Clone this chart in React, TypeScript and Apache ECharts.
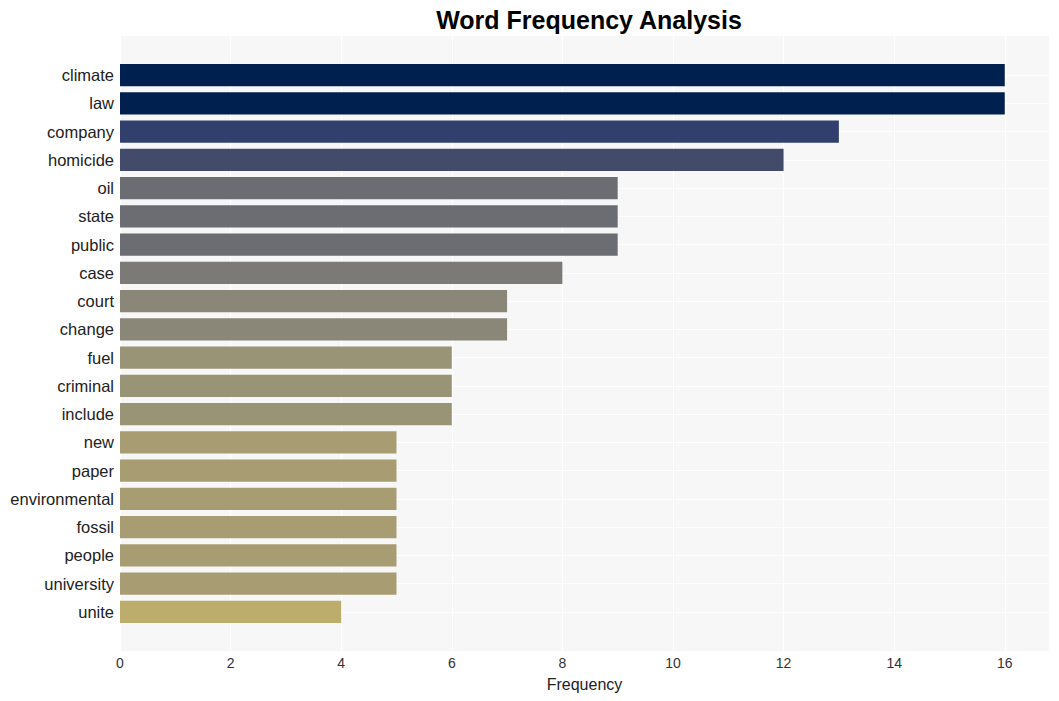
import React, { useEffect, useRef } from "react";
import * as echarts from "echarts";

const categories = [
  "climate", "law", "company", "homicide", "oil", "state", "public", "case", "court", "change",
  "fuel", "criminal", "include", "new", "paper", "environmental", "fossil", "people", "university", "unite",
];
const values = [16, 16, 13, 12, 9, 9, 9, 8, 7, 7, 6, 6, 6, 5, 5, 5, 5, 5, 5, 4];
const barColors = [
  "#00204f", "#00204f", "#303f6c", "#424c6a", "#6c6d72", "#6c6d72", "#6c6d72", "#7b7a76",
  "#8a8778", "#8a8778", "#9a9476", "#9a9476", "#9a9476", "#a89c72", "#a89c72", "#a89c72",
  "#a89c72", "#a89c72", "#a89c72", "#bcad6d",
];
const xTicks = [0, 2, 4, 6, 8, 10, 12, 14, 16];

const FONT = "Liberation Sans, Arial, sans-serif";

export default function App() {
  const ref = useRef<HTMLDivElement>(null);
  useEffect(() => {
    if (!ref.current) return;
    const chart = echarts.init(ref.current, undefined, { renderer: "svg" });
    const xMax = xTicks[xTicks.length - 1] * 1.05;
    chart.setOption({
      animation: false,
      title: {
        text: "Word Frequency Analysis",
        left: 584,
        top: 2,
        textAlign: "center",
        textStyle: { fontFamily: FONT, fontSize: 25, fontWeight: "bold", color: "#000" },
      },
      grid: [
        {
          left: 120, right: 10, top: 36, bottom: 50,
          show: true, backgroundColor: "#f7f7f7", borderWidth: 0,
        },
        { left: 120, right: 10, top: 61, bottom: 75 },
      ],
      xAxis: [
        {
          gridIndex: 0,
          type: "value",
          min: 0,
          max: xMax,
          interval: 2,
          name: "Frequency",
          nameLocation: "middle",
          nameGap: 25,
          nameTextStyle: { fontFamily: FONT, fontSize: 16, color: "#222" },
          axisLine: { show: false },
          axisTick: { show: false },
          axisLabel: {
            fontFamily: FONT, fontSize: 14, color: "#333", margin: 5,
            showMaxLabel: false,
            formatter: (v: number) => (xTicks.includes(v) ? String(v) : ""),
          },
          splitLine: { show: true, lineStyle: { color: "#ffffff", width: 1.2 } },
        },
        {
          gridIndex: 1,
          type: "value",
          min: 0,
          max: xMax,
          show: false,
        },
      ],
      yAxis: [
        {
          gridIndex: 0,
          type: "value",
          show: false,
        },
        {
          gridIndex: 1,
          type: "category",
          data: categories,
          inverse: true,
          axisLine: { show: false },
          axisTick: { show: false },
          axisLabel: { fontFamily: FONT, fontSize: 16.5, color: "#222", margin: 6 },
          splitLine: { show: false },
        },
      ],
      series: [
        {
          type: "line",
          xAxisIndex: 1,
          yAxisIndex: 1,
          data: [],
          z: 1,
          silent: true,
          markLine: {
            z: 1,
            silent: true,
            symbol: "none",
            label: { show: false },
            lineStyle: { color: "#ffffff", width: 1, type: "solid" },
            data: categories.map((c) => ({ yAxis: c })),
          },
        },
        {
          type: "bar",
          xAxisIndex: 1,
          yAxisIndex: 1,
          z: 3,
          barWidth: "78%",
          data: values.map((v, i) => ({ value: v, itemStyle: { color: barColors[i] } })),
        },
      ],
    });
    return () => chart.dispose();
  }, []);
  return <div ref={ref} style={{ width: 1059, height: 701, position: "absolute", left: 0, top: 0 }} />;
}
